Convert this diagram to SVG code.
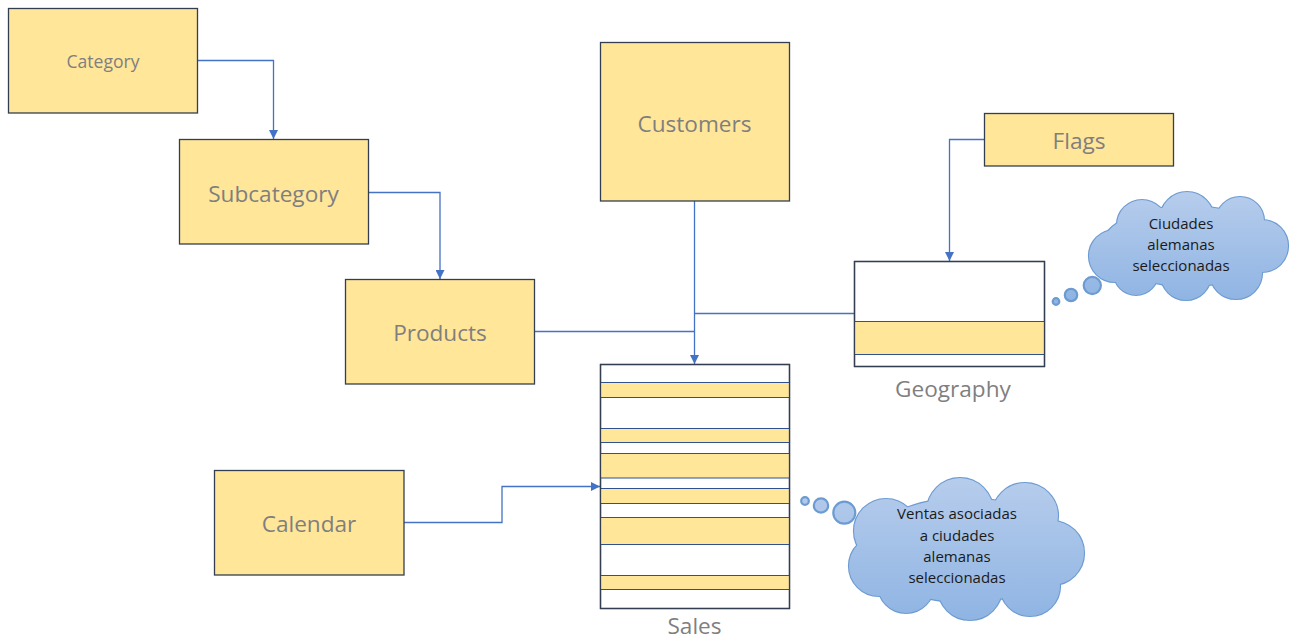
<svg xmlns="http://www.w3.org/2000/svg" width="1299" height="641" viewBox="0 0 1299 641">
<style>
.box{fill:#ffe699;stroke:#333f50;stroke-width:1.3}
.tbl{fill:#ffffff;stroke:#333f50;stroke-width:1.3}
.stripe{fill:#ffe699}
.sep{stroke:#2f528f;stroke-width:1.2;fill:none}
.lbl{font-family:"Open Sans","Noto Sans",sans-serif;fill:#7f7f7f;text-anchor:middle;dominant-baseline:central}
.conn{fill:none;stroke:#4472c4;stroke-width:1.3}
.cloudS{stroke:#6c9bd2;stroke-width:2.2}
.ctxt{font-family:"Open Sans","Noto Sans",sans-serif;font-size:15px;fill:#1a1a1a;text-anchor:middle;dominant-baseline:central}
</style>
<defs>
<marker id="arr" viewBox="0 0 10 10" refX="10" refY="5" markerUnits="userSpaceOnUse" markerWidth="9" markerHeight="9" orient="auto">
<path d="M0,0 L10,5 L0,10 z" fill="#4472c4"/>
</marker>
<linearGradient id="g1" gradientUnits="userSpaceOnUse" x1="0" y1="190" x2="0" y2="302">
<stop offset="0" stop-color="#b7cdec"/><stop offset="1" stop-color="#8fb4e3"/>
</linearGradient>
<linearGradient id="g2" gradientUnits="userSpaceOnUse" x1="0" y1="476" x2="0" y2="622">
<stop offset="0" stop-color="#b7cdec"/><stop offset="1" stop-color="#8fb4e3"/>
</linearGradient>
</defs>
<rect width="1299" height="641" fill="#ffffff"/>

<g id="connectors">
<path class="conn" d="M198,60.5 H273.5 V139" marker-end="url(#arr)"/>
<path class="conn" d="M368,192.5 H440 V279" marker-end="url(#arr)"/>
<path class="conn" d="M694.5,201 V364" marker-end="url(#arr)"/>
<path class="conn" d="M534,331.5 H694.5"/>
<path class="conn" d="M854,313.5 H694.5"/>
<path class="conn" d="M984,139.5 H949.5 V261" marker-end="url(#arr)"/>
<path class="conn" d="M404,522.5 H502 V486.5 H600" marker-end="url(#arr)"/>
</g>

<g id="category">
<rect class="box" x="8.5" y="8.5" width="189" height="104.5"/>
<text class="lbl" x="103" y="61" font-size="17.6">Category</text>
</g>
<g id="subcategory">
<rect class="box" x="179.5" y="139.5" width="189" height="104.5"/>
<text class="lbl" x="273.5" y="193" font-size="22.6">Subcategory</text>
</g>
<g id="products">
<rect class="box" x="345.5" y="279.5" width="189" height="104.5"/>
<text class="lbl" x="440" y="332" font-size="22.6">Products</text>
</g>
<g id="customers">
<rect class="box" x="600.5" y="42.5" width="189" height="158.5"/>
<text class="lbl" x="694.5" y="123" font-size="22.6">Customers</text>
</g>
<g id="flags">
<rect class="box" x="984.5" y="113.5" width="189" height="52.5"/>
<text class="lbl" x="1079" y="140" font-size="22.6">Flags</text>
</g>
<g id="calendar">
<rect class="box" x="214.5" y="470.5" width="189.5" height="104.5"/>
<text class="lbl" x="309" y="523" font-size="22.6">Calendar</text>
</g>

<g id="geography">
<rect class="tbl" x="854.5" y="261.5" width="190" height="105"/>
<rect class="stripe" x="855" y="321.5" width="189" height="33"/>
<path class="sep" d="M855,321.5 H1044 M855,354.5 H1044"/>
<rect x="854.5" y="261.5" width="190" height="105" fill="none" stroke="#333f50" stroke-width="1.3"/>
<text class="lbl" x="953" y="388" font-size="22.6">Geography</text>
</g>

<g id="sales">
<rect class="tbl" x="600.5" y="364.5" width="189" height="244"/>
<rect class="stripe" x="601" y="382.5" width="188" height="15"/>
<rect class="stripe" x="601" y="428.5" width="188" height="14"/>
<rect class="stripe" x="601" y="453.5" width="188" height="24.5"/>
<rect class="stripe" x="601" y="488.5" width="188" height="15"/>
<rect class="stripe" x="601" y="517.5" width="188" height="27"/>
<rect class="stripe" x="601" y="575.5" width="188" height="14"/>
<path class="sep" d="M601,382.5 H789 M601,397.5 H789 M601,428.5 H789 M601,442.5 H789 M601,453.5 H789 M601,478 H789 M601,488.5 H789 M601,503.5 H789 M601,517.5 H789 M601,544.5 H789 M601,575.5 H789 M601,589.5 H789"/>
<rect x="600.5" y="364.5" width="189" height="244" fill="none" stroke="#333f50" stroke-width="1.3"/>
<text class="lbl" x="694.5" y="625" font-size="22.6">Sales</text>
</g>

<g id="cloud-geography">
<g class="cloudS" fill="url(#g1)">
<circle cx="1056" cy="301.5" r="3.3"/>
<circle cx="1071" cy="295" r="6.2"/>
<circle cx="1092.3" cy="285.5" r="8.6"/>
</g>
<g class="cloudS" fill="url(#g1)">
<circle cx="1115" cy="256" r="26"/>
<circle cx="1142" cy="225" r="25"/>
<circle cx="1187" cy="219" r="27"/>
<circle cx="1240" cy="221" r="24"/>
<circle cx="1262" cy="246" r="26"/>
<circle cx="1236" cy="273" r="26"/>
<circle cx="1186" cy="275" r="25"/>
<circle cx="1136" cy="273" r="22"/>
<ellipse cx="1188" cy="246" rx="86" ry="40"/>
</g>
<g fill="url(#g1)">
<circle cx="1115" cy="256" r="26"/>
<circle cx="1142" cy="225" r="25"/>
<circle cx="1187" cy="219" r="27"/>
<circle cx="1240" cy="221" r="24"/>
<circle cx="1262" cy="246" r="26"/>
<circle cx="1236" cy="273" r="26"/>
<circle cx="1186" cy="275" r="25"/>
<circle cx="1136" cy="273" r="22"/>
<ellipse cx="1188" cy="246" rx="86" ry="40"/>
</g>
<text class="ctxt" x="1181" y="223">Ciudades</text>
<text class="ctxt" x="1181" y="244">alemanas</text>
<text class="ctxt" x="1181" y="265">seleccionadas</text>
</g>

<g id="cloud-sales">
<g class="cloudS" fill="url(#g2)">
<circle cx="805" cy="501" r="3.8"/>
<circle cx="821" cy="505.5" r="7.2"/>
<circle cx="844.3" cy="512.7" r="11"/>
</g>
<g class="cloudS" fill="url(#g2)">
<circle cx="886" cy="531" r="32"/>
<circle cx="879" cy="566" r="30"/>
<circle cx="960" cy="511" r="33"/>
<circle cx="1025" cy="516" r="33"/>
<circle cx="1052" cy="553" r="32"/>
<circle cx="1030" cy="586" r="30"/>
<circle cx="970" cy="588" r="32"/>
<circle cx="906" cy="585" r="28"/>
<ellipse cx="965" cy="550" rx="100" ry="52"/>
</g>
<g fill="url(#g2)">
<circle cx="886" cy="531" r="32"/>
<circle cx="879" cy="566" r="30"/>
<circle cx="960" cy="511" r="33"/>
<circle cx="1025" cy="516" r="33"/>
<circle cx="1052" cy="553" r="32"/>
<circle cx="1030" cy="586" r="30"/>
<circle cx="970" cy="588" r="32"/>
<circle cx="906" cy="585" r="28"/>
<ellipse cx="965" cy="550" rx="100" ry="52"/>
</g>
<text class="ctxt" x="957" y="513">Ventas asociadas</text>
<text class="ctxt" x="957" y="535">a ciudades</text>
<text class="ctxt" x="957" y="556">alemanas</text>
<text class="ctxt" x="957" y="577">seleccionadas</text>
</g>
</svg>
